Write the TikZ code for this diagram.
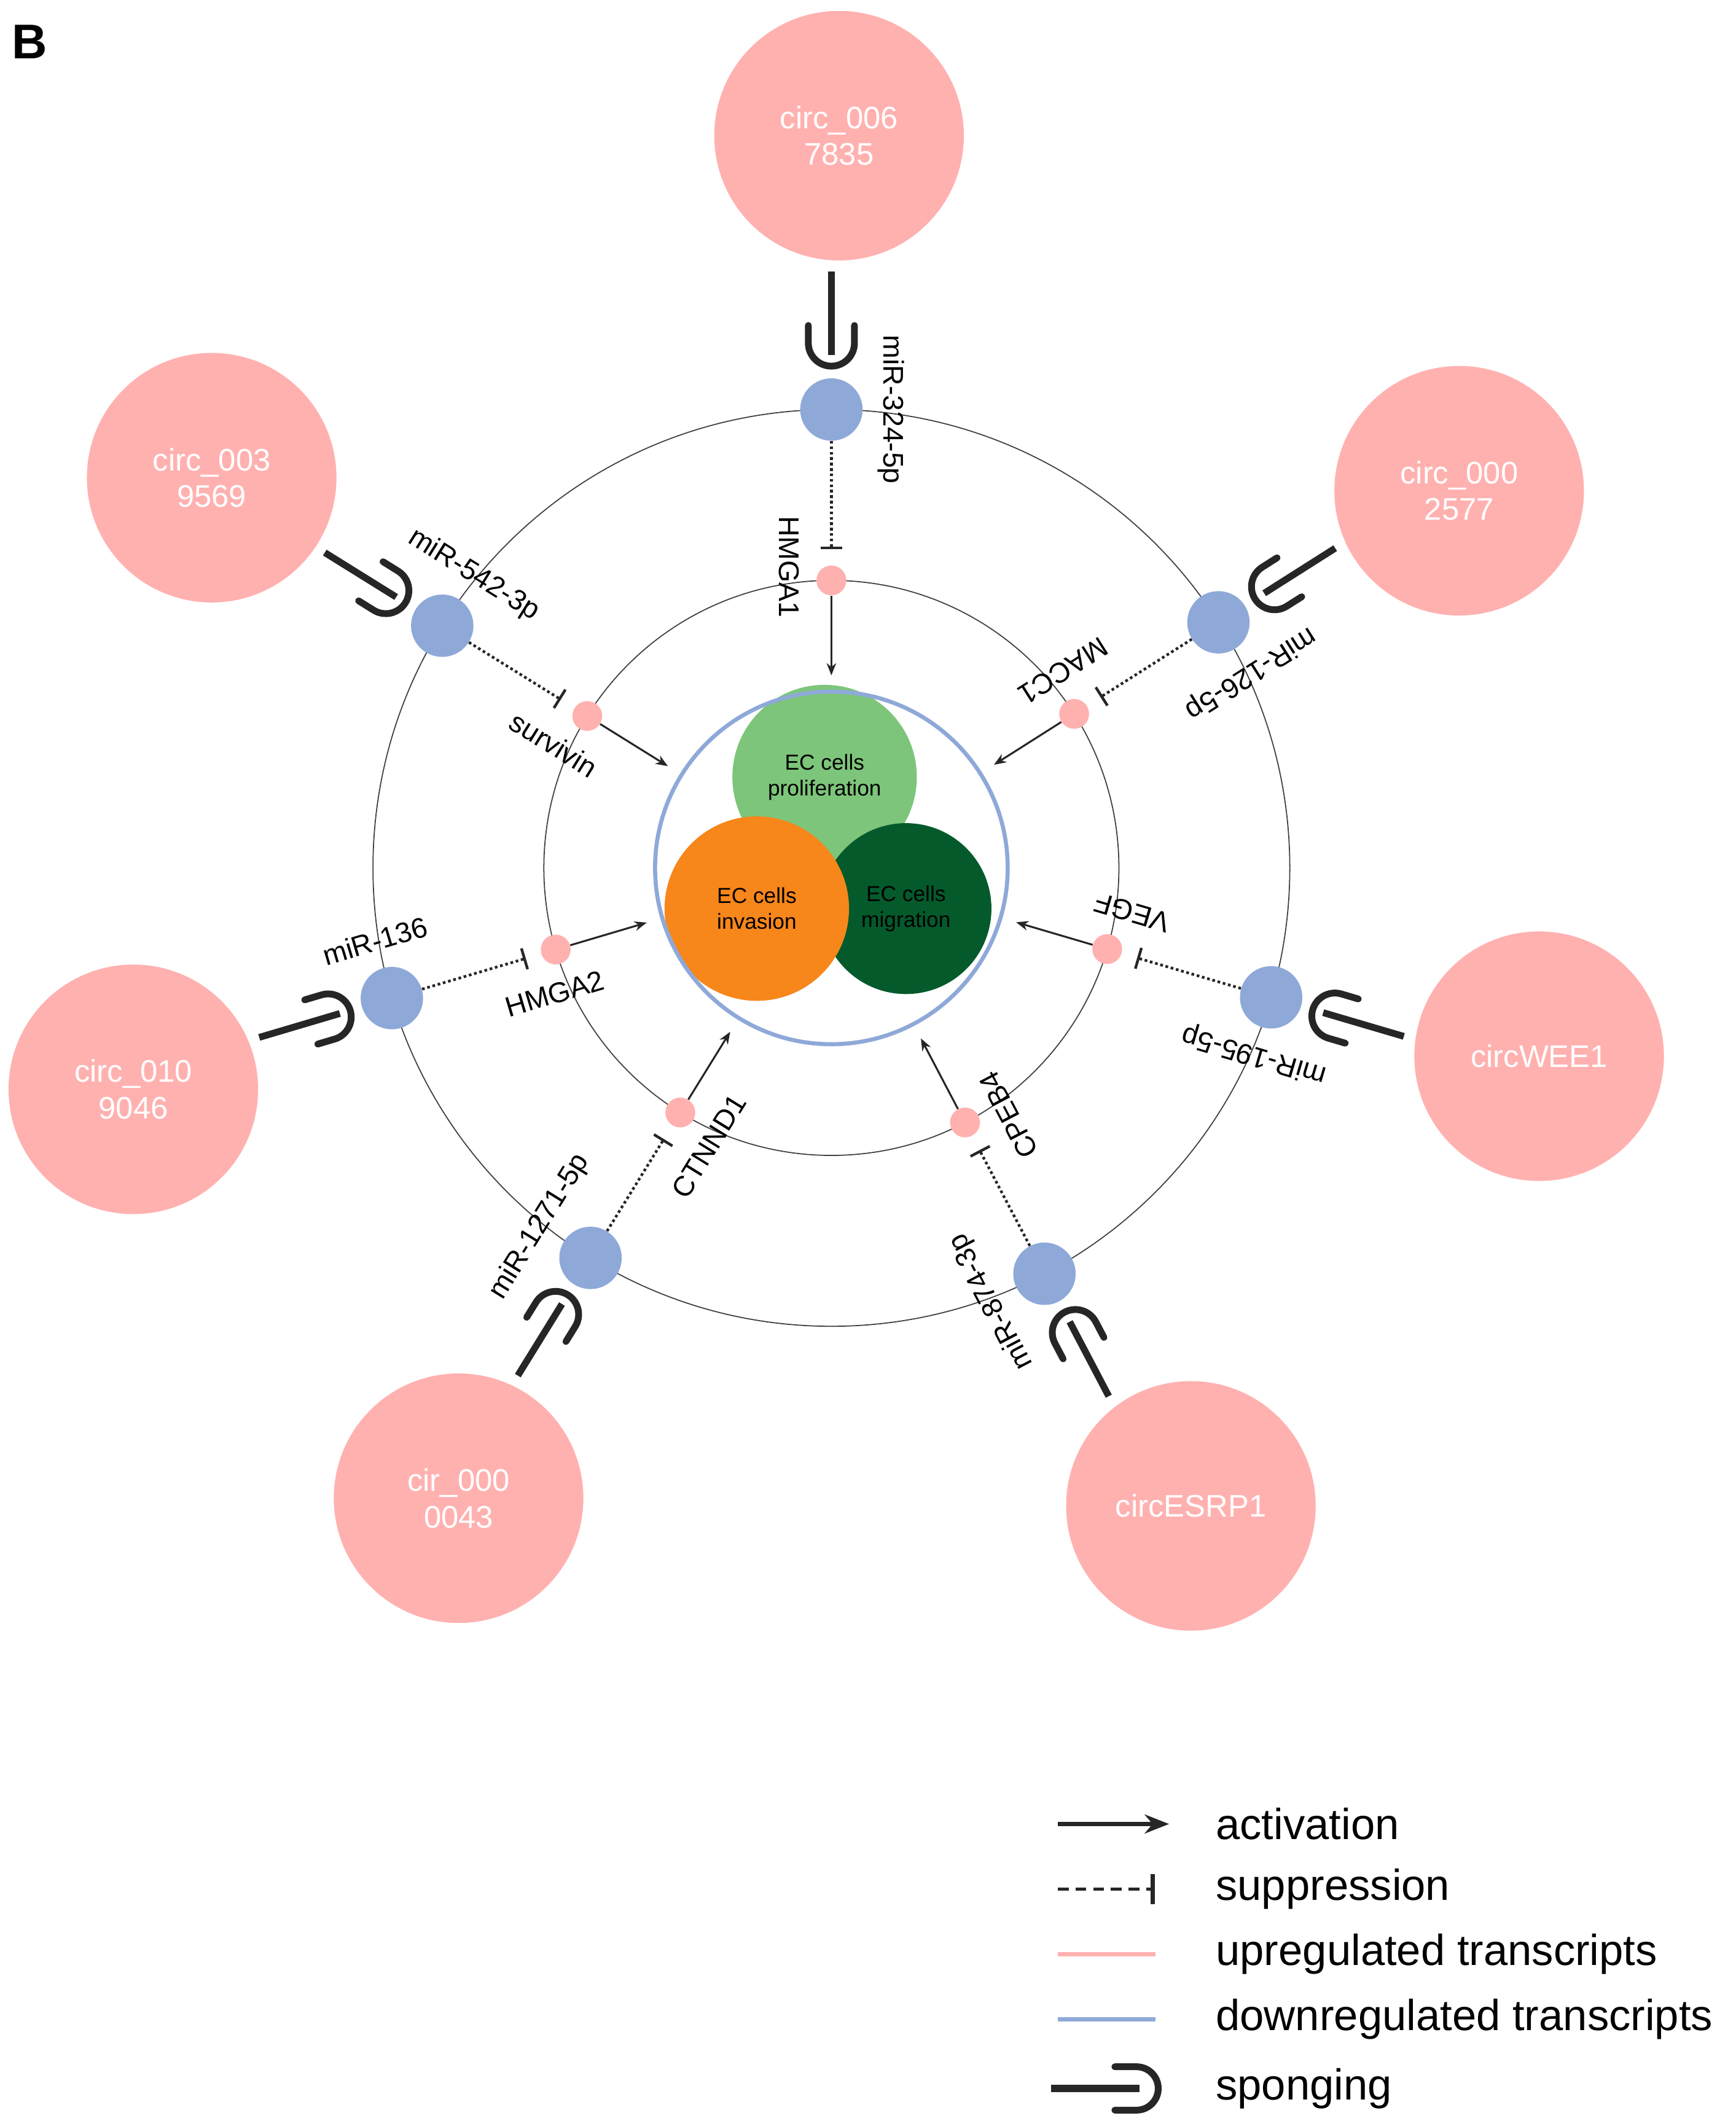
\documentclass[tikz,border=0pt]{standalone}
\usepackage{fontspec}
\setmainfont{Liberation Sans}
\usetikzlibrary{arrows.meta,calc}
\definecolor{up}{HTML}{FFB1B0}
\definecolor{dn}{HTML}{8EA9D8}
\definecolor{gA}{HTML}{7DC57A}
\definecolor{gB}{HTML}{045A2B}
\definecolor{oR}{HTML}{F7861B}
\tikzset{
  big/.style={circle,fill=up,minimum size=184pt,inner sep=0pt,text=white,font=\fontsize{23}{27}\selectfont,align=center},
  mir/.style={circle,fill=dn,minimum size=46pt,inner sep=0pt},
  gene/.style={circle,fill=up,minimum size=22pt,inner sep=0pt},
  lab/.style={font=\fontsize{21}{24}\selectfont,inner sep=0pt},
  inner/.style={circle,minimum size=136pt,inner sep=0pt,align=center,font=\fontsize{16}{19}\selectfont},
  ring/.style={draw=black!75,line width=0.8pt},
  act/.style={-{Stealth[length=9pt,width=7pt]},line width=1.4pt,black!85},
  sup/.style={dotted,line width=2pt,black!85},
  spg/.style={line width=5pt,black!85},
  lg/.style={font=\fontsize{32}{38}\selectfont,anchor=west}
}
\begin{document}
\begin{tikzpicture}[x=1pt,y=1pt]
\useasboundingbox (0,0) rectangle (1280,1564);
\fill[white] (0,0) rectangle (1280,1564);
\coordinate (O) at (613,924);
\node[font=\bfseries\fontsize{36}{40}\selectfont] (B) at (22,1533) {B};
\draw[ring] (O) circle[radius=338];
\draw[ring] (O) circle[radius=212];
% inner
\node[inner,fill=gA] (prol) at (608,991) {EC cells\\proliferation};
\node[inner,fill=gB,minimum size=126pt] (migr) at (668,894) {EC cells\\migration};
\node[inner,fill=oR] (inva) at (558,894) {EC cells\\invasion};
\node[draw=dn,line width=3pt,circle,minimum size=260pt,inner sep=0pt] (ctr) at (O) {};
\foreach \i/\a/\ab/\m/\g/\c in {
 1/90/89.4/miR-324-5p/HMGA1/circ\_006\\7835,
 2/32.4/31/miR-126-5p/MACC1/circ\_000\\2577,
 3/-16.4/-14.9/miR-195-5p/VEGF/circWEE1,
 4/-62.3/-60.6/miR-874-3p/CPEB4/circESRP1,
 5/-121.7/-120.6/miR-1271-5p/CTNND1/cir\_000\\0043,
 6/-163.5/-162.4/miR-136/HMGA2/circ\_010\\9046,
 7/148.1/147.8/miR-542-3p/survivin/circ\_003\\9569}{
  \node[big] (c\i) at ($(O)+(\ab:540)$) {\c};
  \node[mir] (b\i) at ($(O)+(\a:338)$) {};
  \node[gene] (p\i) at ($(O)+(\a:212)$) {};
  \node[lab,rotate=\a+180] (lm\i) at ($(O)+(\a:338)+(\a-90:44)$) {\m};
  \node[lab,rotate=\a+180] (lg\i) at ($(O)+(\a:222)+(\a+90:31)$) {\g};
  \coordinate (t\i) at ($(O)+(\a:236)$);
  \draw[sup] (b\i) -- (t\i);
  \draw[line width=2pt,black!85] ($(t\i)+(\a+90:8)$) -- ($(t\i)+(\a-90:8)$);
  \coordinate (e\i) at ($(O)+(\a:142)$);
  \draw[act] (p\i) -- (e\i);
  \coordinate (s\i) at ($(O)+(\a:440)$);
  \coordinate (u\i) at ($(O)+(\a:378)$);
  \draw[spg] (s\i) -- (u\i);
  \draw[spg,line cap=round] ($(O)+(\a:400)+(\a+90:17)$) -- ($(O)+(\a:387)+(\a+90:17)$)
     arc[start angle=\a+90,end angle=\a+270,radius=17] -- ($(O)+(\a:400)+(\a-90:17)$);
}
% legend
\coordinate (l1a) at (780,219); \coordinate (l1b) at (862,219);
\draw[-{Stealth[length=18pt,width=14pt]},line width=3pt,black!85] (l1a) -- (l1b);
\node[lg] (L1) at (893,219) {activation};
\coordinate (l2a) at (780,171); \coordinate (l2b) at (850,171);
\draw[dashed,line width=2.5pt,black!85,dash pattern=on 8pt off 5pt] (l2a) -- (l2b);
\draw[line width=3pt,black!85] (850,160) -- (850,182);
\node[lg] (L2) at (893,171) {suppression};
\coordinate (l3a) at (780,123); \coordinate (l3b) at (852,123);
\draw[up,line width=3pt] (l3a) -- (l3b);
\node[lg] (L3) at (893,123) {upregulated transcripts};
\coordinate (l4a) at (780,75); \coordinate (l4b) at (852,75);
\draw[dn,line width=3pt] (l4a) -- (l4b);
\node[lg] (L4) at (893,75) {downregulated transcripts};
\coordinate (l5a) at (775,24); \coordinate (l5b) at (840,24);
\draw[spg] (l5a) -- (l5b);
\draw[spg,line cap=round] (822,40) -- (838,40) arc[start angle=90,end angle=-90,radius=16] -- (822,8);
\node[lg] (L5) at (893,24) {sponging};
\end{tikzpicture}
\end{document}
